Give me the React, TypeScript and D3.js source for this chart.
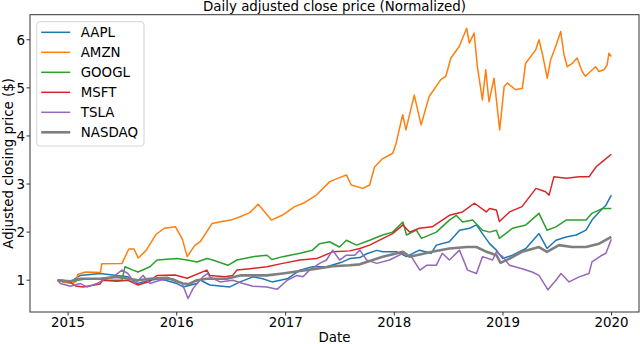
import React, { useEffect, useRef } from "react";
import * as d3 from "d3";

// tickers, colours and axis ticks
const tickers = ["AAPL", "AMZN", "GOOGL", "MSFT", "TSLA", "NASDAQ"];
const colors = ["#1f77b4", "#ff7f0e", "#2ca02c", "#d62728", "#9467bd", "#7f7f7f"];
const xTickYears = [2015, 2016, 2017, 2018, 2019, 2020];
const yTicks = [1, 2, 3, 4, 5, 6];

// normalized adjusted close
const aapl: [string, number][] = [
  ["2014-11-27", 1.0], ["2014-12-13", 0.97], ["2015-01-09", 0.96], ["2015-01-26", 1.04],
  ["2015-02-11", 1.1], ["2015-04-18", 1.14], ["2015-06-14", 1.1], ["2015-07-21", 1.07],
  ["2015-08-21", 0.93], ["2015-10-03", 1.0], ["2015-11-06", 1.03], ["2016-01-02", 0.93],
  ["2016-01-22", 0.86], ["2016-03-09", 0.93], ["2016-03-18", 1.01], ["2016-04-21", 0.9],
  ["2016-06-27", 0.86], ["2016-08-01", 0.965], ["2016-09-13", 1.07], ["2016-10-16", 1.03],
  ["2016-11-16", 0.965], ["2017-01-06", 1.03], ["2017-02-18", 1.21], ["2017-04-01", 1.28],
  ["2017-05-18", 1.28], ["2017-07-11", 1.38], ["2017-08-04", 1.45], ["2017-09-07", 1.47],
  ["2017-09-30", 1.55], ["2017-11-03", 1.62], ["2017-11-23", 1.59], ["2018-01-10", 1.59],
  ["2018-02-11", 1.49], ["2018-03-26", 1.625], ["2018-05-05", 1.56], ["2018-05-22", 1.73],
  ["2018-07-05", 1.8], ["2018-08-08", 2.04], ["2018-09-11", 2.08], ["2018-10-04", 2.15],
  ["2018-10-24", 1.97], ["2018-11-17", 1.76], ["2018-12-10", 1.625], ["2018-12-31", 1.45],
  ["2019-02-02", 1.52], ["2019-03-19", 1.66], ["2019-05-02", 1.97], ["2019-05-29", 1.66],
  ["2019-06-28", 1.83], ["2019-08-01", 1.9], ["2019-09-04", 1.94], ["2019-10-07", 2.04],
  ["2019-10-27", 2.25], ["2019-11-20", 2.42], ["2019-12-13", 2.56], ["2019-12-31", 2.77],
];

const amzn: [string, number][] = [
  ["2014-11-27", 1.0], ["2014-12-16", 0.96], ["2015-01-15", 0.93], ["2015-01-29", 0.98],
  ["2015-02-02", 1.12], ["2015-03-01", 1.17], ["2015-04-20", 1.16], ["2015-04-24", 1.34],
  ["2015-07-01", 1.35], ["2015-07-24", 1.65], ["2015-08-10", 1.65], ["2015-08-25", 1.46],
  ["2015-09-20", 1.62], ["2015-10-23", 1.95], ["2015-11-20", 2.08], ["2015-12-28", 2.11],
  ["2016-01-20", 1.85], ["2016-02-05", 1.49], ["2016-03-01", 1.72], ["2016-03-20", 1.8],
  ["2016-04-29", 2.18], ["2016-06-01", 2.22], ["2016-07-01", 2.25], ["2016-08-01", 2.32],
  ["2016-09-01", 2.4], ["2016-10-01", 2.58], ["2016-11-14", 2.25], ["2016-12-20", 2.35],
  ["2017-01-31", 2.53], ["2017-03-01", 2.6], ["2017-04-14", 2.77], ["2017-05-29", 3.05],
  ["2017-07-24", 3.19], ["2017-08-09", 2.98], ["2017-09-17", 2.91], ["2017-10-10", 2.98],
  ["2017-10-27", 3.36], ["2017-11-23", 3.53], ["2017-12-27", 3.64], ["2018-01-07", 3.85],
  ["2018-01-29", 4.44], ["2018-02-09", 4.125], ["2018-03-09", 4.85], ["2018-04-01", 4.23],
  ["2018-04-28", 4.82], ["2018-06-06", 5.17], ["2018-06-23", 5.24], ["2018-07-10", 5.62],
  ["2018-08-07", 5.86], ["2018-09-01", 6.24], ["2018-09-10", 5.93], ["2018-09-26", 6.14],
  ["2018-10-07", 5.44], ["2018-10-24", 4.75], ["2018-11-04", 5.375], ["2018-11-15", 4.71],
  ["2018-12-02", 5.2], ["2018-12-21", 4.125], ["2019-01-05", 5.03], ["2019-01-16", 5.1],
  ["2019-02-12", 4.96], ["2019-03-07", 4.99], ["2019-03-18", 5.51], ["2019-04-21", 5.79],
  ["2019-05-02", 6.0], ["2019-05-13", 5.72], ["2019-05-30", 5.2], ["2019-06-10", 5.58],
  ["2019-06-27", 5.86], ["2019-07-14", 6.17], ["2019-07-25", 5.69], ["2019-08-05", 5.44],
  ["2019-08-22", 5.51], ["2019-09-07", 5.62], ["2019-09-24", 5.34], ["2019-10-05", 5.24],
  ["2019-10-22", 5.34], ["2019-11-08", 5.44], ["2019-11-19", 5.34], ["2019-12-06", 5.375],
  ["2019-12-17", 5.48], ["2019-12-23", 5.72], ["2019-12-31", 5.65],
];

const googl: [string, number][] = [
  ["2014-11-27", 1.0], ["2014-12-13", 0.98], ["2015-01-09", 0.97], ["2015-02-02", 1.0],
  ["2015-03-05", 1.03], ["2015-04-18", 1.03], ["2015-05-15", 1.0], ["2015-07-01", 1.0],
  ["2015-07-11", 1.28], ["2015-08-07", 1.21], ["2015-08-24", 1.17], ["2015-10-03", 1.28],
  ["2015-10-27", 1.42], ["2016-01-02", 1.45], ["2016-02-05", 1.42], ["2016-03-09", 1.38],
  ["2016-04-11", 1.45], ["2016-05-01", 1.42], ["2016-06-21", 1.31], ["2016-07-21", 1.42],
  ["2016-09-13", 1.49], ["2016-10-30", 1.52], ["2016-11-16", 1.43], ["2016-12-22", 1.49],
  ["2017-02-18", 1.56], ["2017-04-01", 1.625], ["2017-04-25", 1.76], ["2017-05-28", 1.8],
  ["2017-07-01", 1.69], ["2017-07-24", 1.83], ["2017-08-27", 1.73], ["2017-10-10", 1.83],
  ["2017-11-23", 1.94], ["2017-12-26", 2.0], ["2018-01-30", 2.21], ["2018-02-11", 1.94],
  ["2018-03-16", 2.04], ["2018-04-02", 1.87], ["2018-05-22", 2.0], ["2018-07-05", 2.25],
  ["2018-07-28", 2.35], ["2018-08-18", 2.21], ["2018-09-21", 2.25], ["2018-10-24", 2.04],
  ["2018-11-17", 2.0], ["2018-12-10", 2.04], ["2018-12-20", 1.87], ["2019-02-02", 2.08],
  ["2019-03-19", 2.15], ["2019-05-02", 2.39], ["2019-05-29", 2.04], ["2019-06-28", 2.11],
  ["2019-08-01", 2.25], ["2019-09-04", 2.25], ["2019-10-07", 2.25], ["2019-10-27", 2.39],
  ["2019-11-30", 2.49], ["2019-12-31", 2.49],
];

const msft: [string, number][] = [
  ["2014-11-27", 1.0], ["2014-12-13", 1.0], ["2015-01-09", 0.96], ["2015-01-26", 0.88],
  ["2015-02-21", 0.86], ["2015-04-18", 0.92], ["2015-04-27", 1.0], ["2015-06-14", 0.98],
  ["2015-07-21", 1.0], ["2015-08-24", 0.9], ["2015-10-03", 0.98], ["2015-10-27", 1.1],
  ["2015-12-26", 1.11], ["2016-02-05", 1.04], ["2016-04-11", 1.21], ["2016-04-21", 1.1],
  ["2016-06-11", 1.07], ["2016-07-07", 1.1], ["2016-07-21", 1.21], ["2016-09-03", 1.24],
  ["2016-10-30", 1.28], ["2016-12-22", 1.35], ["2017-02-18", 1.42], ["2017-04-15", 1.45],
  ["2017-06-08", 1.59], ["2017-08-04", 1.61], ["2017-09-07", 1.66], ["2017-10-10", 1.73],
  ["2017-12-26", 1.97], ["2018-01-30", 2.15], ["2018-02-21", 2.0], ["2018-03-26", 2.08],
  ["2018-05-08", 2.11], ["2018-07-05", 2.35], ["2018-08-18", 2.42], ["2018-09-27", 2.6],
  ["2018-11-06", 2.42], ["2018-11-17", 2.49], ["2018-12-10", 2.46], ["2018-12-20", 2.22],
  ["2019-01-23", 2.42], ["2019-03-06", 2.53], ["2019-04-22", 2.91], ["2019-05-24", 2.84],
  ["2019-06-05", 2.77], ["2019-06-21", 3.15], ["2019-08-01", 3.12], ["2019-09-14", 3.15],
  ["2019-10-17", 3.15], ["2019-11-10", 3.36], ["2019-11-30", 3.46], ["2019-12-31", 3.62],
];

const tsla: [string, number][] = [
  ["2014-11-27", 1.0], ["2014-12-06", 0.93], ["2015-01-09", 0.875], ["2015-02-11", 0.93],
  ["2015-03-05", 0.86], ["2015-04-08", 0.93], ["2015-05-05", 1.03], ["2015-06-01", 1.07],
  ["2015-07-01", 1.21], ["2015-07-21", 1.14], ["2015-08-14", 0.93], ["2015-09-10", 1.1],
  ["2015-10-03", 0.93], ["2015-11-06", 1.0], ["2015-12-19", 1.03], ["2016-01-19", 0.93],
  ["2016-02-08", 0.62], ["2016-02-25", 0.83], ["2016-03-29", 1.07], ["2016-04-14", 1.14],
  ["2016-04-21", 1.07], ["2016-05-25", 0.965], ["2016-07-07", 1.0], ["2016-08-11", 0.93],
  ["2016-09-13", 0.875], ["2016-10-30", 0.86], ["2016-12-03", 0.81], ["2017-01-06", 1.0],
  ["2017-02-08", 1.1], ["2017-02-28", 1.07], ["2017-03-22", 1.21], ["2017-04-25", 1.35],
  ["2017-05-18", 1.42], ["2017-06-08", 1.625], ["2017-07-01", 1.42], ["2017-07-24", 1.52],
  ["2017-08-21", 1.52], ["2017-09-07", 1.625], ["2017-09-30", 1.42], ["2017-11-03", 1.35],
  ["2017-12-16", 1.42], ["2018-01-30", 1.56], ["2018-02-27", 1.49], ["2018-03-28", 1.21],
  ["2018-04-19", 1.31], ["2018-05-22", 1.31], ["2018-06-11", 1.56], ["2018-07-05", 1.42],
  ["2018-08-08", 1.625], ["2018-09-04", 1.21], ["2018-10-04", 1.14], ["2018-10-24", 1.49],
  ["2018-11-27", 1.42], ["2018-12-10", 1.59], ["2018-12-31", 1.49], ["2019-01-23", 1.31],
  ["2019-03-06", 1.24], ["2019-04-09", 1.17], ["2019-05-02", 1.1], ["2019-06-01", 0.8],
  ["2019-06-28", 1.0], ["2019-07-15", 1.14], ["2019-08-11", 0.965], ["2019-09-14", 1.07],
  ["2019-10-17", 1.14], ["2019-10-27", 1.38], ["2019-11-30", 1.52], ["2019-12-13", 1.56],
  ["2019-12-31", 1.85],
];

const nasdaq: [string, number][] = [
  ["2014-11-27", 1.0], ["2015-01-09", 0.98], ["2015-02-11", 1.03], ["2015-04-18", 1.03],
  ["2015-06-14", 1.07], ["2015-08-24", 1.0], ["2015-10-03", 1.03], ["2015-11-29", 1.05],
  ["2016-01-22", 0.93], ["2016-02-10", 0.92], ["2016-03-09", 1.0], ["2016-04-11", 1.03],
  ["2016-06-17", 1.03], ["2016-08-01", 1.1], ["2016-10-30", 1.1], ["2016-12-22", 1.14],
  ["2017-02-18", 1.19], ["2017-04-15", 1.24], ["2017-06-08", 1.29], ["2017-08-04", 1.31],
  ["2017-09-07", 1.33], ["2017-11-23", 1.49], ["2018-01-30", 1.59], ["2018-02-21", 1.49],
  ["2018-05-08", 1.59], ["2018-07-05", 1.66], ["2018-09-01", 1.69], ["2018-10-04", 1.69],
  ["2018-11-07", 1.59], ["2018-12-10", 1.52], ["2018-12-24", 1.36], ["2019-01-23", 1.45],
  ["2019-03-06", 1.59], ["2019-05-02", 1.69], ["2019-05-29", 1.59], ["2019-07-08", 1.73],
  ["2019-08-21", 1.69], ["2019-10-07", 1.69], ["2019-11-20", 1.76], ["2019-12-31", 1.9],
];

const seriesData = [aapl, amzn, googl, msft, tsla, nasdaq];
const lineWidths = [1.5, 1.5, 1.5, 1.5, 1.5, 2.6];

function App() {
  const ref = useRef<SVGSVGElement>(null);

  useEffect(() => {
    const svg = d3.select(ref.current);
    svg.selectAll("*").remove();
    const font = "DejaVu Sans, sans-serif";
    const fontSize = 13.4;
    const left = 30;
    const right = 639;
    const top = 14.7;
    const bottom = 312;

    const parse = d3.timeParse("%Y-%m-%d");
    const series = seriesData.map((s) => s.map((d) => ({ date: parse(d[0]) as Date, value: d[1] })));
    const all = series.flat();

    // matplotlib-like 5% padding
    const [t0, t1] = d3.extent(all, (d) => d.date) as [Date, Date];
    const tPad = (t1.getTime() - t0.getTime()) * 0.05;
    const xScale = d3
      .scaleTime()
      .domain([new Date(t0.getTime() - tPad), new Date(t1.getTime() + tPad)])
      .range([left, right]);
    const [v0, v1] = d3.extent(all, (d) => d.value) as [number, number];
    const vPad = (v1 - v0) * 0.05;
    const yScale = d3.scaleLinear().domain([v0 - vPad, v1 + vPad]).range([bottom, top]);

    const line = d3
      .line<{ date: Date; value: number }>()
      .x((d) => xScale(d.date))
      .y((d) => yScale(d.value));

    const plot = svg.append("g");
    series.forEach((s, i) => {
      plot
        .append("path")
        .datum(s)
        .attr("d", line)
        .attr("fill", "none")
        .attr("stroke", colors[i])
        .attr("stroke-width", lineWidths[i])
        .attr("stroke-linejoin", "round");
    });

    // frame
    svg
      .append("rect")
      .attr("x", left)
      .attr("y", top)
      .attr("width", right - left)
      .attr("height", bottom - top)
      .attr("fill", "none")
      .attr("stroke", "#333")
      .attr("stroke-width", 1);

    // x ticks
    const xt = svg.append("g");
    xTickYears.forEach((yr) => {
      const x = xScale(new Date(yr, 0, 1));
      xt.append("line").attr("x1", x).attr("x2", x).attr("y1", bottom).attr("y2", bottom + 3.5).attr("stroke", "#333");
      xt.append("text")
        .text(String(yr))
        .attr("x", x)
        .attr("y", bottom + 15)
        .attr("text-anchor", "middle")
        .attr("font-family", font)
        .attr("font-size", fontSize)
        .attr("fill", "#000");
    });

    // y ticks
    const yt = svg.append("g");
    yTicks.forEach((v) => {
      const y = yScale(v);
      yt.append("line").attr("x1", left - 3.5).attr("x2", left).attr("y1", y).attr("y2", y).attr("stroke", "#333");
      yt.append("text")
        .text(String(v))
        .attr("x", left - 5)
        .attr("y", y + 4.8)
        .attr("text-anchor", "end")
        .attr("font-family", font)
        .attr("font-size", fontSize)
        .attr("fill", "#000");
    });

    // labels and title
    svg
      .append("text")
      .text("Date")
      .attr("x", (left + right) / 2)
      .attr("y", 341.5)
      .attr("text-anchor", "middle")
      .attr("font-family", font)
      .attr("font-size", fontSize)
      .attr("fill", "#000");
    svg
      .append("text")
      .text("Adjusted closing price ($)")
      .attr("transform", `translate(13,${(top + bottom) / 2}) rotate(-90)`)
      .attr("text-anchor", "middle")
      .attr("font-family", font)
      .attr("font-size", fontSize)
      .attr("fill", "#000");
    svg
      .append("text")
      .text("Daily adjusted close price (Normalized)")
      .attr("x", (left + right) / 2)
      .attr("y", 11)
      .attr("text-anchor", "middle")
      .attr("font-family", font)
      .attr("font-size", fontSize)
      .attr("fill", "#000");

    // legend
    const lg = svg.append("g").attr("transform", "translate(36.7,21.7)");
    lg.append("rect")
      .attr("width", 107.3)
      .attr("height", 124.3)
      .attr("rx", 3)
      .attr("fill", "white")
      .attr("fill-opacity", 0.8)
      .attr("stroke", "#d5d5d5");
    tickers.forEach((name, i) => {
      const y = 10.6 + i * 20;
      lg.append("line")
        .attr("x1", 4.5)
        .attr("x2", 33.5)
        .attr("y1", y)
        .attr("y2", y)
        .attr("stroke", colors[i])
        .attr("stroke-width", lineWidths[i]);
      lg.append("text")
        .text(name)
        .attr("x", 44)
        .attr("y", y + 4.8)
        .attr("font-family", font)
        .attr("font-size", fontSize)
        .attr("fill", "#000");
    });
  }, []);

  return (
    <svg
      ref={ref}
      width={640}
      height={344}
      style={{ position: "absolute", left: 0, top: 0, background: "#fff" }}
    />
  );
}

export default App;
